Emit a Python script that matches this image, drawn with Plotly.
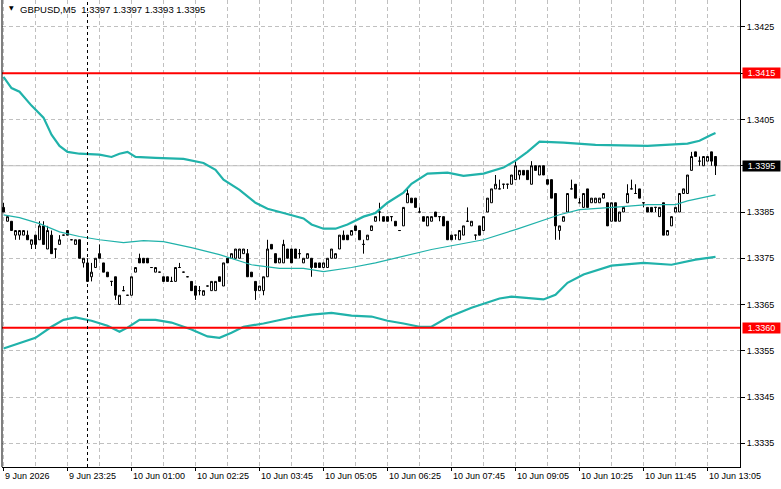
import plotly.graph_objects as go

symbol = "GBPUSD,M5"

open_ = [1.3386,1.3383,1.3383,1.3380,1.3380,1.3380,1.3380,1.3378,1.3380,1.3379,
         1.3382,1.3377,1.3380,1.3377,1.3378,1.3380,1.3381,1.3379,1.3378,1.3379,
         1.3374,1.3374,1.3371,1.3373,1.3376,1.3374,1.3372,1.3370,1.3371,1.3365,
         1.3368,1.3367,1.3367,1.3372,1.3375,1.3375,1.3375,1.3373,1.3372,1.3372,
         1.3371,1.3371,1.3370,1.3370,1.3373,1.3372,1.3371,1.3370,1.3369,1.3368,
         1.3367,1.3369,1.3368,1.3368,1.3371,1.3369,1.3375,1.3375,1.3375,1.3375,
         1.3376,1.3376,1.3372,1.3370,1.3368,1.3368,1.3371,1.3378,1.3376,1.3374,
         1.3374,1.3377,1.3377,1.3377,1.3376,1.3374,1.3375,1.3375,1.3374,1.3374,
         1.3373,1.3373,1.3375,1.3375,1.3377,1.3380,1.3380,1.3380,1.3382,1.3381,
         1.3378,1.3379,1.3381,1.3383,1.3385,1.3384,1.3384,1.3384,1.3383,1.3381,
         1.3382,1.3387,1.3388,1.3388,1.3385,1.3384,1.3382,1.3383,1.3385,1.3384,
         1.3384,1.3383,1.3380,1.3380,1.3379,1.3380,1.3383,1.3382,1.3380,1.3382,
         1.3381,1.3385,1.3387,1.3390,1.3390,1.3391,1.3391,1.3391,1.3392,1.3393,
         1.3394,1.3394,1.3391,1.3395,1.3393,1.3395,1.3392,1.3392,1.3389,1.3381,
         1.3383,1.3385,1.3390,1.3391,1.3387,1.3386,1.3390,1.3387,1.3387,1.3387,
         1.3388,1.3387,1.3383,1.3387,1.3383,1.3385,1.3387,1.3390,1.3389,1.3390,
         1.3387,1.3386,1.3386,1.3386,1.3384,1.3387,1.3380,1.3382,1.3385,1.3385,
         1.3389,1.3389,1.3394,1.3398,1.3396,1.3395,1.3396,1.3398,1.3397]
high_ = [1.3387,1.3384,1.3383,1.3381,1.3381,1.3381,1.3381,1.3379,1.3380,1.3383,
         1.3383,1.3382,1.3381,1.3377,1.3380,1.3380,1.3381,1.3379,1.3379,1.3379,
         1.3375,1.3375,1.3374,1.3375,1.3378,1.3374,1.3372,1.3370,1.3371,1.3367,
         1.3369,1.3367,1.3371,1.3373,1.3376,1.3375,1.3375,1.3373,1.3373,1.3372,
         1.3371,1.3371,1.3371,1.3373,1.3374,1.3372,1.3371,1.3370,1.3369,1.3369,
         1.3368,1.3369,1.3370,1.3370,1.3371,1.3374,1.3375,1.3376,1.3377,1.3377,
         1.3377,1.3377,1.3372,1.3370,1.3369,1.3371,1.3379,1.3378,1.3376,1.3375,
         1.3379,1.3377,1.3377,1.3377,1.3377,1.3375,1.3376,1.3375,1.3374,1.3374,
         1.3374,1.3375,1.3377,1.3376,1.3380,1.3381,1.3380,1.3381,1.3382,1.3381,
         1.3379,1.3380,1.3382,1.3384,1.3387,1.3384,1.3384,1.3384,1.3383,1.3381,
         1.3386,1.3390,1.3388,1.3388,1.3386,1.3384,1.3384,1.3384,1.3385,1.3384,
         1.3384,1.3383,1.3380,1.3380,1.3381,1.3382,1.3386,1.3383,1.3380,1.3382,
         1.3384,1.3388,1.3390,1.3393,1.3392,1.3391,1.3391,1.3393,1.3396,1.3394,
         1.3394,1.3394,1.3396,1.3395,1.3395,1.3395,1.3392,1.3392,1.3389,1.3382,
         1.3384,1.3389,1.3392,1.3391,1.3388,1.3389,1.3390,1.3388,1.3388,1.3388,
         1.3389,1.3387,1.3387,1.3387,1.3385,1.3386,1.3391,1.3392,1.3391,1.3390,
         1.3387,1.3386,1.3386,1.3386,1.3386,1.3387,1.3381,1.3384,1.3386,1.3389,
         1.3390,1.3393,1.3398,1.3398,1.3397,1.3397,1.3397,1.3398,1.3397]
low_ = [1.3385,1.3383,1.3381,1.3379,1.3379,1.3380,1.3379,1.3377,1.3377,1.3379,
        1.3378,1.3377,1.3376,1.3375,1.3378,1.3380,1.3380,1.3379,1.3378,1.3375,
        1.3373,1.3370,1.3370,1.3373,1.3375,1.3372,1.3371,1.3369,1.3366,1.3365,
        1.3368,1.3367,1.3367,1.3372,1.3374,1.3374,1.3374,1.3373,1.3372,1.3372,
        1.3370,1.3370,1.3370,1.3370,1.3373,1.3372,1.3371,1.3368,1.3366,1.3367,
        1.3367,1.3369,1.3368,1.3368,1.3370,1.3369,1.3374,1.3375,1.3375,1.3375,
        1.3376,1.3371,1.3371,1.3366,1.3368,1.3367,1.3371,1.3377,1.3374,1.3374,
        1.3374,1.3375,1.3374,1.3375,1.3375,1.3374,1.3375,1.3371,1.3373,1.3373,
        1.3373,1.3373,1.3375,1.3375,1.3377,1.3379,1.3379,1.3380,1.3381,1.3379,
        1.3376,1.3379,1.3381,1.3383,1.3383,1.3383,1.3383,1.3383,1.3382,1.3381,
        1.3382,1.3387,1.3387,1.3386,1.3385,1.3383,1.3382,1.3383,1.3384,1.3383,
        1.3382,1.3379,1.3379,1.3379,1.3379,1.3380,1.3383,1.3382,1.3379,1.3380,
        1.3381,1.3385,1.3387,1.3390,1.3390,1.3390,1.3390,1.3391,1.3392,1.3392,
        1.3393,1.3392,1.3391,1.3394,1.3393,1.3393,1.3391,1.3388,1.3379,1.3379,
        1.3383,1.3385,1.3390,1.3388,1.3387,1.3386,1.3386,1.3387,1.3387,1.3387,
        1.3388,1.3382,1.3383,1.3383,1.3383,1.3385,1.3387,1.3390,1.3389,1.3388,
        1.3386,1.3385,1.3385,1.3385,1.3384,1.3380,1.3380,1.3382,1.3385,1.3385,
        1.3389,1.3389,1.3394,1.3397,1.3395,1.3395,1.3396,1.3395,1.3393]
close_ = [1.3385,1.3384,1.3381,1.3381,1.3381,1.3381,1.3379,1.3379,1.3378,1.3382,
          1.3378,1.3381,1.3376,1.3377,1.3379,1.3380,1.3380,1.3379,1.3379,1.3375,
          1.3375,1.3370,1.3372,1.3375,1.3375,1.3372,1.3371,1.3370,1.3367,1.3367,
          1.3368,1.3367,1.3371,1.3373,1.3374,1.3374,1.3374,1.3373,1.3373,1.3372,
          1.3370,1.3370,1.3370,1.3373,1.3373,1.3372,1.3371,1.3368,1.3367,1.3368,
          1.3368,1.3369,1.3370,1.3370,1.3370,1.3374,1.3374,1.3376,1.3377,1.3377,
          1.3377,1.3371,1.3371,1.3368,1.3369,1.3371,1.3377,1.3377,1.3374,1.3375,
          1.3378,1.3375,1.3374,1.3375,1.3376,1.3375,1.3376,1.3373,1.3373,1.3373,
          1.3374,1.3375,1.3377,1.3376,1.3380,1.3379,1.3379,1.3381,1.3381,1.3379,
          1.3378,1.3380,1.3382,1.3384,1.3385,1.3383,1.3383,1.3384,1.3382,1.3381,
          1.3386,1.3389,1.3387,1.3386,1.3385,1.3383,1.3384,1.3384,1.3384,1.3384,
          1.3382,1.3379,1.3379,1.3380,1.3381,1.3382,1.3383,1.3383,1.3380,1.3380,
          1.3384,1.3388,1.3390,1.3391,1.3390,1.3391,1.3391,1.3393,1.3395,1.3394,
          1.3393,1.3392,1.3395,1.3394,1.3395,1.3393,1.3391,1.3388,1.3382,1.3382,
          1.3384,1.3389,1.3390,1.3388,1.3387,1.3389,1.3386,1.3388,1.3388,1.3388,
          1.3389,1.3382,1.3387,1.3383,1.3385,1.3386,1.3389,1.3390,1.3389,1.3388,
          1.3387,1.3385,1.3385,1.3386,1.3386,1.3380,1.3381,1.3384,1.3386,1.3389,
          1.3390,1.3393,1.3397,1.3397,1.3396,1.3397,1.3397,1.3396,1.3395]

# Bollinger band samples (bar index -> price)
upper_idx = [0,2,4,7,10,12,14,16,19,24,27,29,31,33,38,45,50,53,55,59,63,66,70,75,77,80,83,86,90,93,
             96,100,102,106,111,115,120,125,128,131,134,140,148,161,171,174,177,178]
upper_val = [1.34142,1.34118,1.34110,1.34080,1.34054,1.34017,1.33993,1.33980,1.33976,1.33974,
             1.33969,1.33976,1.33980,1.33969,1.33967,1.33965,1.33956,1.33941,1.33920,1.33898,
             1.33870,1.33857,1.33848,1.33836,1.33823,1.33814,1.33814,1.33823,1.33840,1.33848,
             1.33870,1.33892,1.33911,1.33933,1.33935,1.33928,1.33933,1.33946,1.33961,1.33980,
             1.34002,1.34000,1.33995,1.33993,1.33998,1.34004,1.34017,1.34021]
mid_idx = [0,4,9,14,19,24,30,35,40,47,54,62,69,75,80,87,93,107,120,128,139,144,154,161,168,171,178]
mid_val = [1.33844,1.33838,1.33825,1.33807,1.33797,1.33790,1.33784,1.33788,1.33786,1.33773,
           1.33758,1.33736,1.33728,1.33728,1.33721,1.33730,1.33740,1.33769,1.33790,1.33812,
           1.33844,1.33855,1.33861,1.33866,1.33866,1.33874,1.33887]
lower_idx = [0,4,8,12,15,18,22,26,29,31,34,38,42,47,51,54,57,60,65,72,77,82,87,92,96,100,104,107,
             111,117,124,127,135,138,141,145,152,160,167,173,178]
lower_val = [1.33555,1.33566,1.33578,1.33602,1.33617,1.33622,1.33615,1.33604,1.33591,1.33600,
             1.33617,1.33617,1.33611,1.33596,1.33581,1.33578,1.33589,1.33602,1.33609,1.33622,
             1.33628,1.33632,1.33626,1.33624,1.33615,1.33609,1.33602,1.33602,1.33622,1.33643,
             1.33663,1.33667,1.33661,1.33671,1.33697,1.33715,1.33734,1.33740,1.33736,1.33747,
             1.33753]

# Levels
resistance = 1.3415
support = 1.3360
current_price = 1.3395
separator_bar = 21

# X tick labels (bar index -> label)
xtick_idx = [0,16,32,48,64,80,96,112,128,144,160,176]
xtick_text = ["9 Jun 2026","9 Jun 23:25","10 Jun 01:00","10 Jun 02:25","10 Jun 03:45",
              "10 Jun 05:05","10 Jun 06:25","10 Jun 07:45","10 Jun 09:05","10 Jun 10:25",
              "10 Jun 11:45","10 Jun 13:05"]
ytick_vals = [1.3335,1.3345,1.3355,1.3365,1.3375,1.3385,1.3395,1.3405,1.3415,1.3425]

FONT = "Liberation Sans"
FS = 9
TEAL = "#20b2aa"
GRID = "#c0c0c0"

bars = list(range(len(close_)))

fig = go.Figure()
fig.add_trace(go.Candlestick(
    x=bars, open=open_, high=high_, low=low_, close=close_,
    increasing=dict(line=dict(color="black", width=1), fillcolor="white"),
    decreasing=dict(line=dict(color="black", width=1), fillcolor="black"),
    whiskerwidth=0, showlegend=False, hoverinfo="skip"))
fig.add_trace(go.Scatter(x=upper_idx, y=upper_val, mode="lines",
                         line=dict(color=TEAL, width=2.2), showlegend=False, hoverinfo="skip"))
fig.add_trace(go.Scatter(x=mid_idx, y=mid_val, mode="lines",
                         line=dict(color=TEAL, width=1.2), showlegend=False, hoverinfo="skip"))
fig.add_trace(go.Scatter(x=lower_idx, y=lower_val, mode="lines",
                         line=dict(color=TEAL, width=2.2), showlegend=False, hoverinfo="skip"))

shapes = [
    dict(type="line", xref="paper", x0=0, x1=1, yref="y", y0=current_price, y1=current_price,
         line=dict(color=GRID, width=1), layer="below"),
    dict(type="line", xref="paper", x0=0, x1=1, yref="y", y0=resistance, y1=resistance,
         line=dict(color="#ff0000", width=2)),
    dict(type="line", xref="paper", x0=0, x1=1, yref="y", y0=support, y1=support,
         line=dict(color="#ff0000", width=2)),
    dict(type="line", xref="x", x0=separator_bar, x1=separator_bar, yref="paper", y0=0, y1=1,
         line=dict(color="black", width=1, dash="3px,3px")),
    dict(type="line", xref="paper", x0=0, x1=0, yref="paper", y0=0, y1=1,
         line=dict(color="black", width=1)),
]

header = "%s  %.4f %.4f %.4f %.4f" % (symbol, open_[-1], high_[-1], low_[-1], close_[-1])
annotations = [
    dict(text="▼", xref="paper", yref="paper", x=0.0065, y=0.995, xanchor="left", yanchor="top",
         showarrow=False, font=dict(family="DejaVu Sans", size=6, color="black")),
    dict(text=header, xref="paper", yref="paper", x=0.0217, y=0.995, xanchor="left", yanchor="top",
         showarrow=False, font=dict(family=FONT, size=9.5, color="black")),
]
for i, t in zip(xtick_idx, xtick_text):
    annotations.append(dict(text=t, xref="x", yref="paper", x=i, y=0, xanchor="left", yanchor="top",
                            yshift=-2, xshift=-1, showarrow=False,
                            font=dict(family=FONT, size=FS, color="black")))
for price, bg in [(resistance, "#ff0000"), (current_price, "black"), (support, "#ff0000")]:
    annotations.append(dict(text="%.4f" % price, xref="paper", yref="y", x=1, y=price,
                            xanchor="left", yanchor="middle", xshift=2, showarrow=False,
                            bgcolor=bg, borderpad=0, width=37, height=10,
                            font=dict(family=FONT, size=FS, color="white")))

fig.update_layout(
    width=781, height=489,
    margin=dict(l=2, r=41, t=0, b=22),
    paper_bgcolor="white", plot_bgcolor="white",
    shapes=shapes, annotations=annotations,
    xaxis=dict(range=[-0.375, 184.125], rangeslider=dict(visible=False),
               tickvals=xtick_idx, showticklabels=False, ticks="outside", ticklen=3,
               tickcolor="black", showgrid=True, gridcolor=GRID, griddash="4px,3px",
               minor=dict(dtick=8, tick0=0, showgrid=True, gridcolor=GRID, griddash="4px,3px"),
               showline=True, linecolor="black", linewidth=1, zeroline=False, fixedrange=True),
    yaxis=dict(range=[1.332988, 1.343083], side="right", tickvals=ytick_vals,
               tickformat=".4f", ticks="outside", ticklen=4, tickcolor="black",
               tickfont=dict(family=FONT, size=FS, color="black"),
               showgrid=True, gridcolor=GRID, griddash="4px,3px",
               showline=True, linecolor="black", linewidth=1, zeroline=False, fixedrange=True),
    font=dict(family=FONT),
)

fig.write_html("out.html")
